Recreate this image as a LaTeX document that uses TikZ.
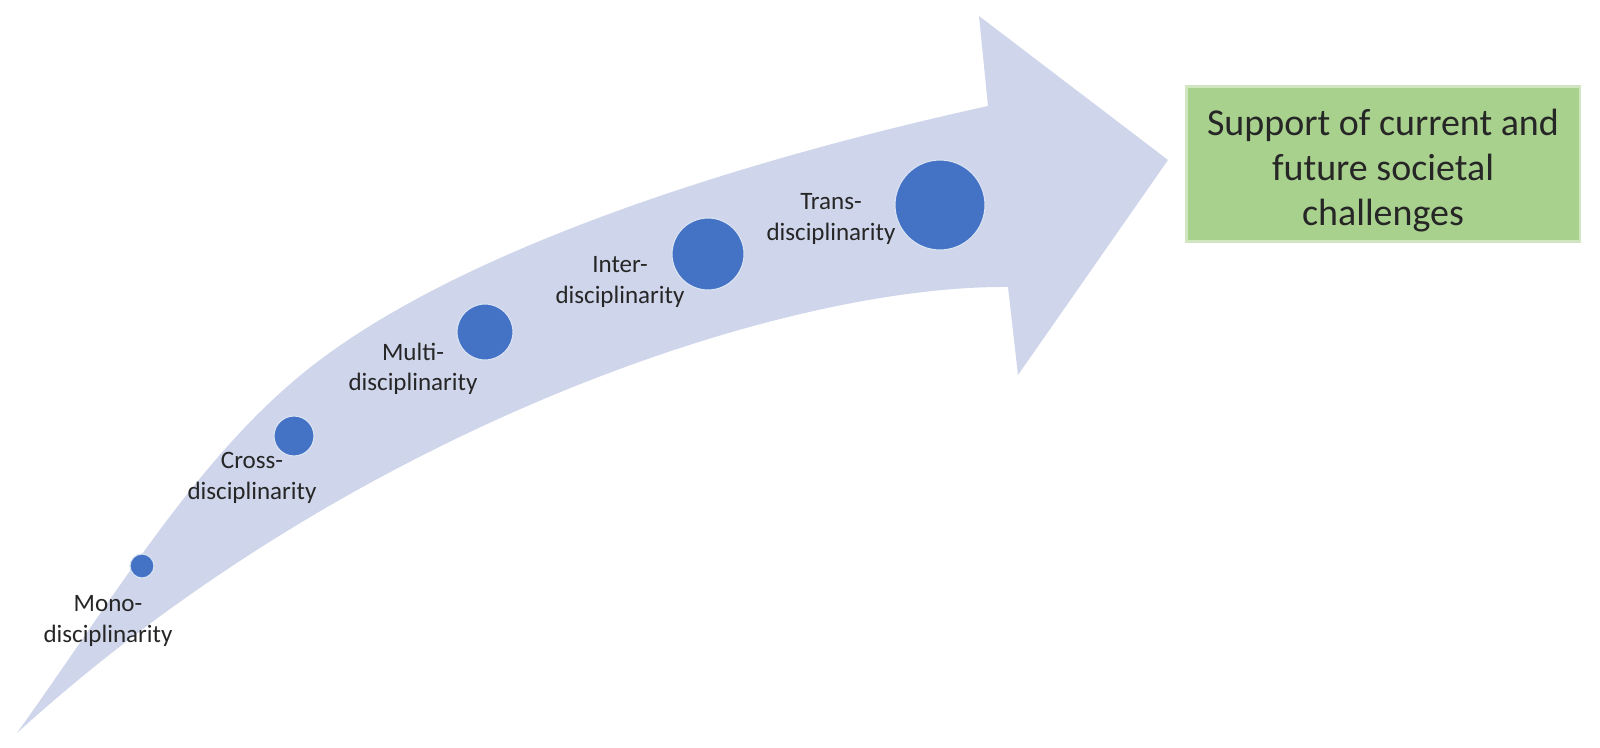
\documentclass[tikz,border=0pt]{standalone}
\usepackage{fontspec}
\setmainfont{Carlito}
\usetikzlibrary{positioning}

\definecolor{arrowfill}{HTML}{CFD5EA}
\definecolor{dotblue}{HTML}{4472C4}
\definecolor{goalgreen}{HTML}{A9D18E}
\definecolor{labeltext}{HTML}{262626}

\tikzset{
  stage/.style={circle, fill=dotblue, draw=white!80!dotblue, line width=0.8pt, inner sep=0pt},
  stagelabel/.style={align=center, text=labeltext, inner sep=0pt, font=\fontsize{17.8}{21.7}\selectfont},
  goalbox/.style={fill=goalgreen, draw=goalgreen!55!white, line width=1.5pt,
    minimum width=9.825cm, minimum height=3.875cm},
  goaltext/.style={align=center, text=labeltext, inner sep=0pt, font=\fontsize{27}{32}\selectfont}
}

\begin{document}
\begin{tikzpicture}[x=0.025cm,y=-0.025cm]
  \useasboundingbox (0,0) rectangle (1600,748);

  % Curved arrow
  \fill[arrowfill] (17,733) .. controls (117,593) and (197,458) .. (307,370)
    .. controls (457,250) and (738,161) .. (988,106)
    -- (979,16) -- (1168,160) -- (1018,375) -- (1008,287)
    .. controls (780,285) and (350,430) .. (17,733) -- cycle;

  % Stages
  \node[stage, minimum size=0.6cm] (mono) at (142,566) {};
  \node[stage, minimum size=1.0cm] (cross) at (294,436) {};
  \node[stage, minimum size=1.4cm] (multi) at (485,332) {};
  \node[stage, minimum size=1.8cm] (inter) at (708,254) {};
  \node[stage, minimum size=2.25cm] (trans) at (940,205) {};

  \node[stagelabel] (monolbl) at (108,621) {Mono-\\disciplinarity};
  \node[stagelabel] (crosslbl) at (252,478) {Cross-\\disciplinarity};
  \node[stagelabel] (multilbl) at (413,369) {Multi-\\disciplinarity};
  \node[stagelabel] (interlbl) at (620,282) {Inter-\\disciplinarity};
  \node[stagelabel] (translbl) at (831,219) {Trans-\\disciplinarity};

  % Goal
  \node[goalbox] (goal) at (1383,164) {};
  \node[goaltext] (goaltxt) at (1383,171) {Support of current and\\future societal\\challenges};
\end{tikzpicture}
\end{document}
